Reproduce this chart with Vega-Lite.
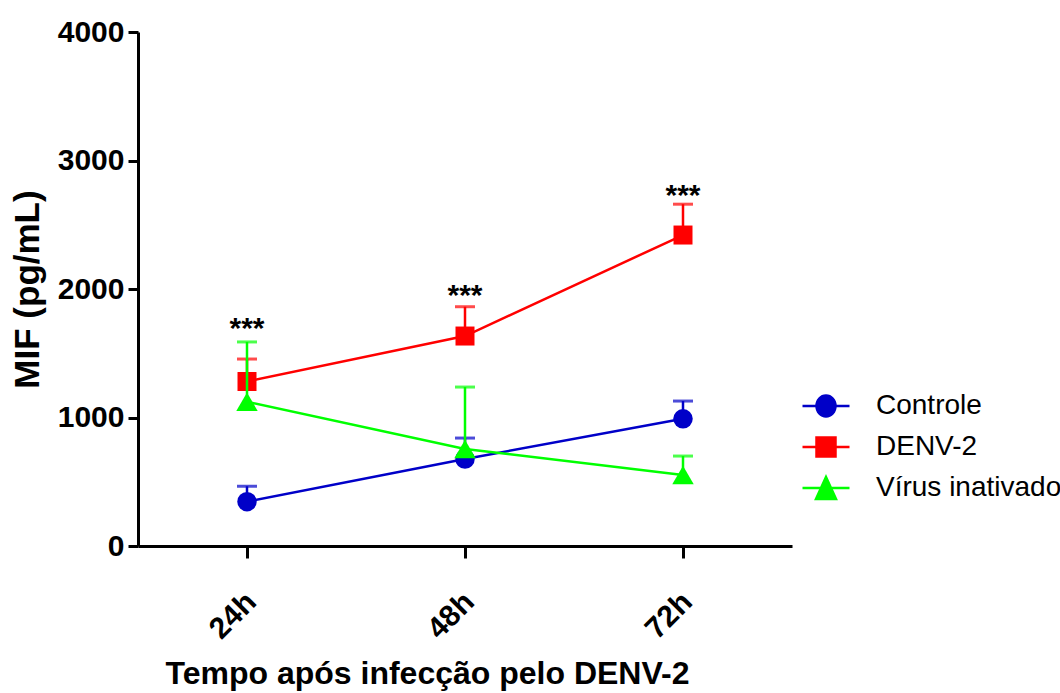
{
  "$schema": "https://vega.github.io/schema/vega-lite/v6.json",
  "width": 654,
  "height": 514,
  "autosize": {"type": "none"},
  "padding": {"left": 138, "top": 32, "right": 268, "bottom": 147},
  "background": "white",
  "config": {
    "view": {"stroke": null},
    "font": "Liberation Sans",
    "axis": {
      "grid": false,
      "domainColor": "black",
      "domainWidth": 3,
      "tickColor": "black",
      "tickWidth": 3,
      "tickSize": 10,
      "labelColor": "black",
      "labelFont": "Liberation Sans",
      "labelFontWeight": "bold",
      "labelFontSize": 30,
      "titleColor": "black",
      "titleFont": "Liberation Sans",
      "titleFontWeight": "bold",
      "titleFontSize": 32
    },
    "legend": {
      "labelFont": "Liberation Sans",
      "labelFontSize": 28,
      "labelColor": "black",
      "labelLimit": 400,
      "symbolSize": 400,
      "labelOffset": 36,
      "rowPadding": 10
    }
  },
  "datasets": {
    "stats": [
      {"time": "24h", "group": "Controle", "mean": 345, "upper": 465},
      {"time": "48h", "group": "Controle", "mean": 677, "upper": 840},
      {"time": "72h", "group": "Controle", "mean": 990, "upper": 1128},
      {"time": "24h", "group": "DENV-2", "mean": 1280, "upper": 1455},
      {"time": "48h", "group": "DENV-2", "mean": 1634, "upper": 1862},
      {"time": "72h", "group": "DENV-2", "mean": 2420, "upper": 2660},
      {"time": "24h", "group": "Vírus inativado", "mean": 1122, "upper": 1588},
      {"time": "48h", "group": "Vírus inativado", "mean": 755, "upper": 1237},
      {"time": "72h", "group": "Vírus inativado", "mean": 553, "upper": 700}
    ],
    "stars": [
      {"time": "24h", "pos": 1735, "label": "***"},
      {"time": "48h", "pos": 1992, "label": "***"},
      {"time": "72h", "pos": 2770, "label": "***"}
    ]
  },
  "encoding": {
    "x": {
      "field": "time",
      "type": "ordinal",
      "sort": ["24h", "48h", "72h"],
      "scale": {"type": "point", "padding": 0.5},
      "axis": {
        "title": "Tempo após infecção pelo DENV-2",
        "labelAngle": -45,
        "labelAlign": "right",
        "labelBaseline": "middle",
        "labelPadding": 39,
        "labelOffset": 4,
        "tickSize": 12,
        "titleAnchor": "start",
        "titleAlign": "left",
        "titleX": 27,
        "titleY": 127,
        "titleBaseline": "middle"
      }
    },
    "color": {
      "field": "group",
      "type": "nominal",
      "scale": {"domain": ["Controle", "DENV-2", "Vírus inativado"], "range": ["#0000C8", "#FF0000", "#00FF00"]},
      "legend": {
        "title": null,
        "orient": "none",
        "legendX": 674,
        "legendY": 360,
        "encode": {
          "symbols": {
            "update": {
              "shape": {"signal": "datum.value === 'Controle' ? 'M-2.35,0H2.35M0.95,0A0.95,1.05 0 1 1 -0.95,0A0.95,1.05 0 1 1 0.95,0Z' : datum.value === 'DENV-2' ? 'M-2.35,0H2.35M-0.95,-0.95H0.95V0.95H-0.95Z' : 'M-2.35,0H2.35M0,-1.1L1.0,1.1H-1.0Z'"},
              "stroke": {"signal": "datum.value === 'Controle' ? '#0000C8' : datum.value === 'DENV-2' ? '#FF0000' : '#00FF00'"},
              "fill": {"signal": "datum.value === 'Controle' ? '#0000C8' : datum.value === 'DENV-2' ? '#FF0000' : '#00FF00'"},
              "strokeWidth": {"value": 2.5},
              "opacity": {"value": 1},
              "fillOpacity": {"value": 1},
              "strokeOpacity": {"value": 1}
            }
          }
        }
      }
    }
  },
  "layer": [
    {
      "data": {"name": "stats"},
      "transform": [{"filter": "datum.group === 'Controle'"}],
      "layer": [
        {"mark": {"type": "rule", "strokeWidth": 2.5}, "encoding": {"y": {"field": "mean", "type": "quantitative", "title": "MIF (pg/mL)", "scale": {"domain": [0, 4000], "nice": false}, "axis": {"values": [0, 1000, 2000, 3000, 4000], "format": "d", "labelPadding": 4, "titlePadding": 12, "titleFontSize": 35}}, "y2": {"field": "upper"}}},
        {"mark": {"type": "tick", "size": 20, "thickness": 3}, "encoding": {"y": {"field": "upper", "type": "quantitative", "title": "MIF (pg/mL)"}}},
        {"mark": {"type": "line", "strokeWidth": 2.5}, "encoding": {"y": {"field": "mean", "type": "quantitative", "title": "MIF (pg/mL)"}}},
        {"mark": {"type": "point", "shape": "circle", "filled": true, "opacity": 1, "size": 380}, "encoding": {"y": {"field": "mean", "type": "quantitative", "title": "MIF (pg/mL)"}}}
      ]
    },
    {
      "data": {"name": "stats"},
      "transform": [{"filter": "datum.group === 'DENV-2'"}],
      "layer": [
        {"mark": {"type": "rule", "strokeWidth": 2.5}, "encoding": {"y": {"field": "mean", "type": "quantitative", "title": "MIF (pg/mL)"}, "y2": {"field": "upper"}}},
        {"mark": {"type": "tick", "size": 20, "thickness": 3}, "encoding": {"y": {"field": "upper", "type": "quantitative", "title": "MIF (pg/mL)"}}},
        {"mark": {"type": "line", "strokeWidth": 2.5}, "encoding": {"y": {"field": "mean", "type": "quantitative", "title": "MIF (pg/mL)"}}},
        {"mark": {"type": "point", "shape": "square", "filled": true, "opacity": 1, "size": 361}, "encoding": {"y": {"field": "mean", "type": "quantitative", "title": "MIF (pg/mL)"}}}
      ]
    },
    {
      "data": {"name": "stats"},
      "transform": [{"filter": "datum.group === 'Vírus inativado'"}],
      "layer": [
        {"mark": {"type": "rule", "strokeWidth": 2.5}, "encoding": {"y": {"field": "mean", "type": "quantitative", "title": "MIF (pg/mL)"}, "y2": {"field": "upper"}}},
        {"mark": {"type": "tick", "size": 20, "thickness": 3}, "encoding": {"y": {"field": "upper", "type": "quantitative", "title": "MIF (pg/mL)"}}},
        {"mark": {"type": "line", "strokeWidth": 2.5}, "encoding": {"y": {"field": "mean", "type": "quantitative", "title": "MIF (pg/mL)"}}},
        {"mark": {"type": "point", "shape": "triangle-up", "filled": true, "opacity": 1, "size": 460}, "encoding": {"y": {"field": "mean", "type": "quantitative", "title": "MIF (pg/mL)"}}}
      ]
    },
    {
      "data": {"name": "stars"},
      "mark": {"type": "text", "font": "Liberation Sans", "fontWeight": "bold", "fontSize": 30, "baseline": "middle", "align": "center", "color": "black", "dy": 6},
      "encoding": {
        "y": {"field": "pos", "type": "quantitative", "title": "MIF (pg/mL)"},
        "text": {"field": "label"},
        "color": {"value": "black"}
      }
    }
  ]
}
